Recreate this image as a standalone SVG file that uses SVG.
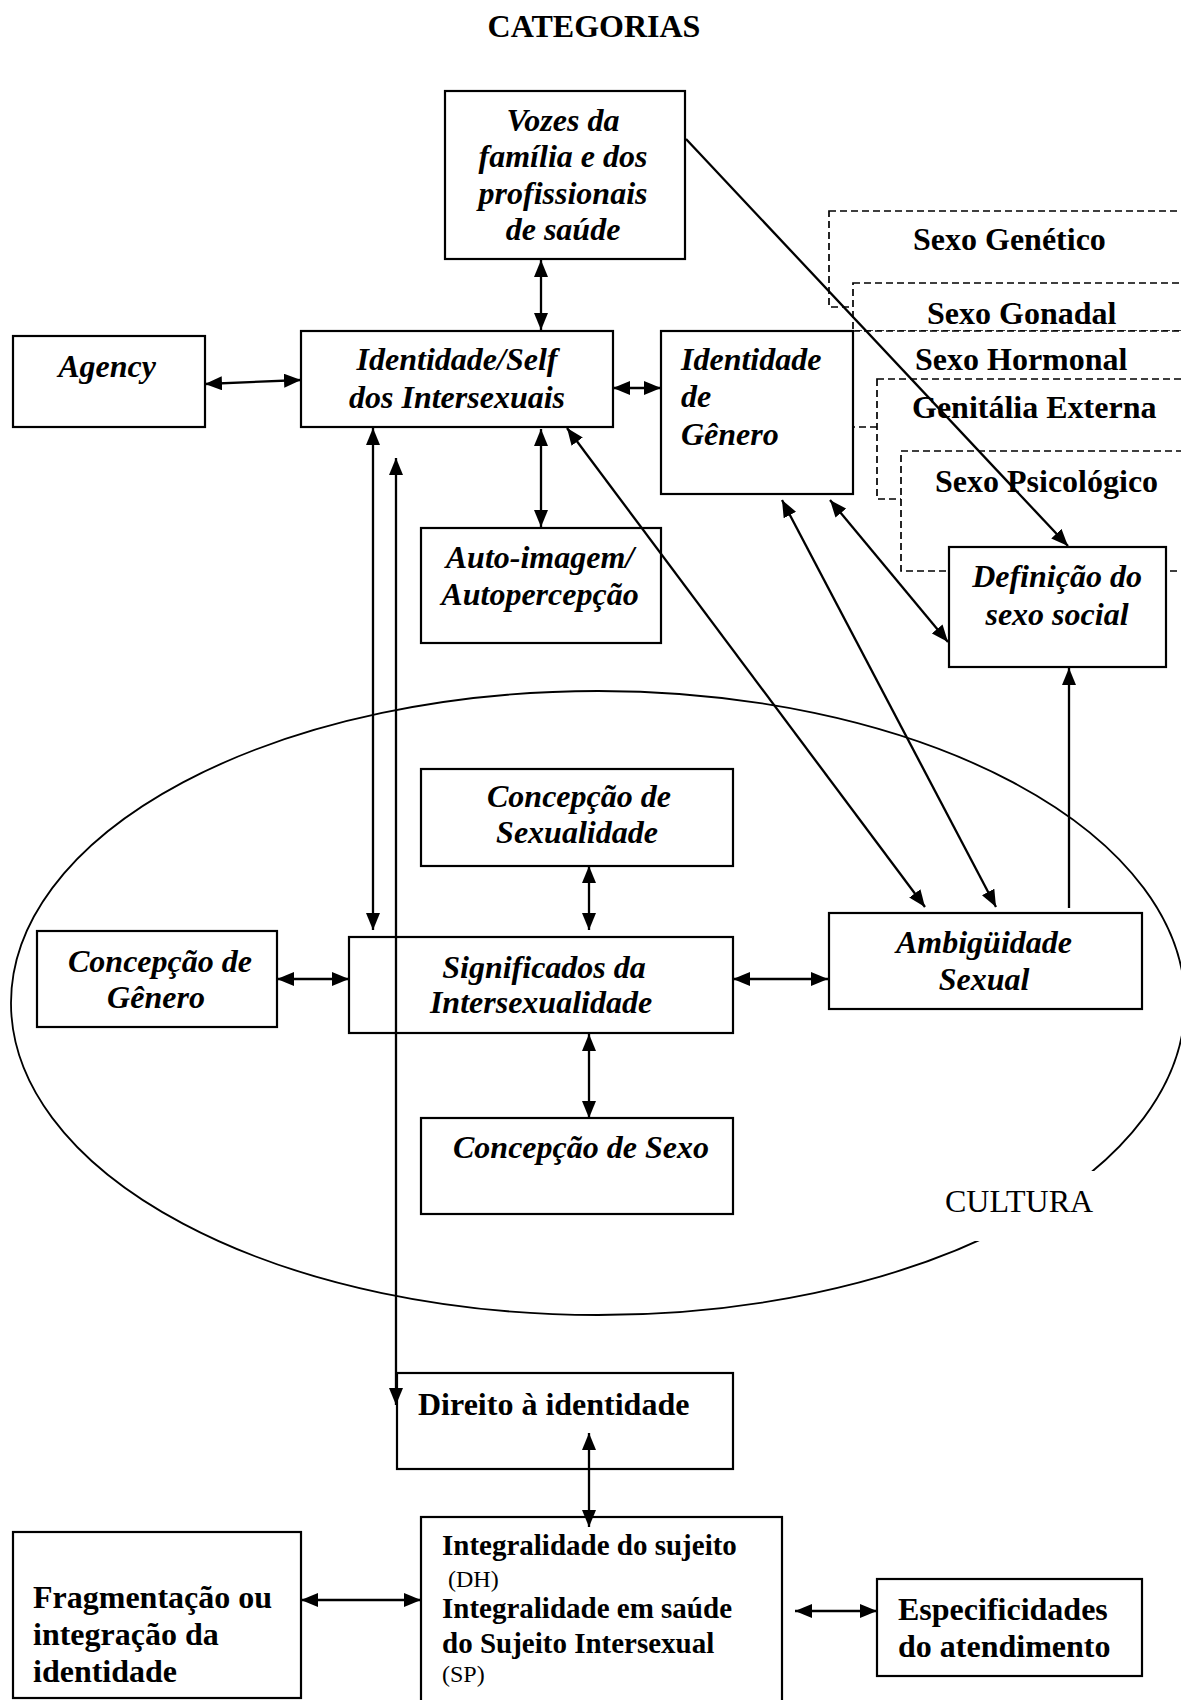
<svg xmlns="http://www.w3.org/2000/svg" width="1181" height="1700" viewBox="0 0 1181 1700">
<defs>
<style>
text{font-family:"Liberation Serif","Times New Roman",serif;fill:#000}
.bi{font-weight:bold;font-style:italic;font-size:32px}
.b{font-weight:bold;font-size:32px}
.b29{font-weight:bold;font-size:29px}
.r{font-size:24px}
.rc{font-size:32px}
.m{text-anchor:middle}
.box{fill:#fff;stroke:#000;stroke-width:2.2}
.dbox{fill:#fff;stroke:#000;stroke-width:1.7;stroke-dasharray:7 4}
#connectors line{stroke:#000;stroke-width:2.3;marker-end:url(#ah)}
#connectors line.dbl{marker-start:url(#ah)}
</style>
<marker id="ah" markerUnits="userSpaceOnUse" markerWidth="17" markerHeight="14" refX="17" refY="7" orient="auto-start-reverse">
<path d="M0,0 L17,7 L0,14 z" fill="#000"/>
</marker>
</defs>
<rect width="1181" height="1700" fill="#fff"/>
<text class="b m" x="594" y="37">CATEGORIAS</text>

<g id="cultura">
<ellipse cx="598" cy="1003" rx="587" ry="312" fill="none" stroke="#000" stroke-width="1.8"/>
<rect x="940" y="1171" width="172" height="70" fill="#fff"/>
<text class="rc" x="945" y="1212">CULTURA</text>
</g>

<g id="sexo-genetico"><rect class="dbox" x="829" y="211" width="380" height="96"/><text class="b" x="913" y="250">Sexo Genético</text></g>
<g id="sexo-gonadal"><rect class="dbox" x="853" y="283" width="360" height="48"/><text class="b" x="927" y="324">Sexo Gonadal</text></g>
<g id="sexo-hormonal"><rect class="dbox" x="853" y="331" width="360" height="96"/><text class="b" x="915" y="370">Sexo Hormonal</text></g>
<g id="genitalia-externa"><rect class="dbox" x="877" y="379" width="340" height="120"/><text class="b" x="912" y="418">Genitália Externa</text></g>
<g id="sexo-psicologico"><rect class="dbox" x="901" y="451" width="320" height="120"/><text class="b" x="935" y="492">Sexo Psicológico</text></g>

<g id="vozes"><rect class="box" x="445" y="91" width="240" height="168"/>
<text class="bi m" x="563" y="131">Vozes da</text><text class="bi m" x="563" y="167">família e dos</text><text class="bi m" x="563" y="204">profissionais</text><text class="bi m" x="563" y="240">de saúde</text></g>

<g id="agency"><rect class="box" x="13" y="336" width="192" height="91"/><text class="bi m" x="107" y="377">Agency</text></g>

<g id="identidade-self"><rect class="box" x="301" y="331" width="312" height="96"/>
<text class="bi m" x="457" y="370">Identidade/Self</text><text class="bi m" x="457" y="408">dos Intersexuais</text></g>

<g id="identidade-genero"><rect class="box" x="661" y="331" width="192" height="163"/>
<text class="bi" x="681" y="370">Identidade</text><text class="bi" x="681" y="407">de</text><text class="bi" x="681" y="445">Gênero</text></g>

<g id="auto-imagem"><rect class="box" x="421" y="528" width="240" height="115"/>
<text class="bi m" x="540" y="568">Auto-imagem/</text><text class="bi m" x="540" y="605">Autopercepção</text></g>

<g id="definicao"><rect class="box" x="949" y="547" width="217" height="120"/>
<text class="bi m" x="1057" y="587">Definição do</text><text class="bi m" x="1057" y="625">sexo social</text></g>

<g id="concepcao-sexualidade"><rect class="box" x="421" y="769" width="312" height="97"/>
<text class="bi m" x="579" y="807">Concepção de</text><text class="bi m" x="577" y="843">Sexualidade</text></g>

<g id="concepcao-genero"><rect class="box" x="37" y="931" width="240" height="96"/>
<text class="bi m" x="160" y="972">Concepção de</text><text class="bi m" x="156" y="1008">Gênero</text></g>

<g id="significados"><rect class="box" x="349" y="937" width="384" height="96"/>
<text class="bi m" x="544" y="978">Significados da</text><text class="bi m" x="541" y="1013">Intersexualidade</text></g>

<g id="ambiguidade"><rect class="box" x="829" y="913" width="313" height="96"/>
<text class="bi m" x="984" y="953">Ambigüidade</text><text class="bi m" x="984" y="990">Sexual</text></g>

<g id="concepcao-sexo"><rect class="box" x="421" y="1118" width="312" height="96"/>
<text class="bi" x="453" y="1158">Concepção de Sexo</text></g>

<g id="direito"><rect class="box" x="397" y="1373" width="336" height="96"/>
<text class="b" x="418" y="1415">Direito à identidade</text></g>

<g id="fragmentacao"><rect class="box" x="13" y="1532" width="288" height="166"/>
<text class="b" x="33" y="1608">Fragmentação ou</text><text class="b" x="33" y="1645">integração da</text><text class="b" x="33" y="1682">identidade</text></g>

<g id="integralidade"><rect class="box" x="421" y="1517" width="361" height="200"/>
<text class="b29" x="442" y="1555">Integralidade do sujeito</text>
<text class="r" x="448" y="1587">(DH)</text>
<text class="b29" x="442" y="1618">Integralidade em saúde</text>
<text class="b29" x="442" y="1653">do Sujeito Intersexual</text>
<text class="r" x="442" y="1682">(SP)</text></g>

<g id="especificidades"><rect class="box" x="877" y="1579" width="265" height="97"/>
<text class="b" x="898" y="1620">Especificidades</text><text class="b" x="898" y="1657">do atendimento</text></g>

<g id="connectors">
<line class="dbl" x1="541" y1="260" x2="541" y2="330"/>
<line class="dbl" x1="205" y1="384" x2="301" y2="380"/>
<line class="dbl" x1="613" y1="388" x2="661" y2="388"/>
<line class="dbl" x1="541" y1="429" x2="541" y2="527"/>
<line class="dbl" x1="373" y1="428" x2="373" y2="930"/>
<line class="dbl" x1="396" y1="458" x2="396" y2="1405"/>
<line class="dbl" x1="567" y1="428" x2="925" y2="907"/>
<line class="dbl" x1="782" y1="500" x2="996" y2="907"/>
<line class="dbl" x1="830" y1="500" x2="948" y2="642"/>
<line x1="686" y1="139" x2="1068" y2="546"/>
<line x1="1069" y1="908" x2="1069" y2="668"/>
<line class="dbl" x1="589" y1="866" x2="589" y2="930"/>
<line class="dbl" x1="277" y1="979" x2="349" y2="979"/>
<line class="dbl" x1="733" y1="979" x2="828" y2="979"/>
<line class="dbl" x1="589" y1="1034" x2="589" y2="1118"/>
<line class="dbl" x1="589" y1="1433" x2="589" y2="1527"/>
<line class="dbl" x1="301" y1="1600" x2="421" y2="1600"/>
<line class="dbl" x1="795" y1="1611" x2="877" y2="1611"/>
</g>
</svg>
